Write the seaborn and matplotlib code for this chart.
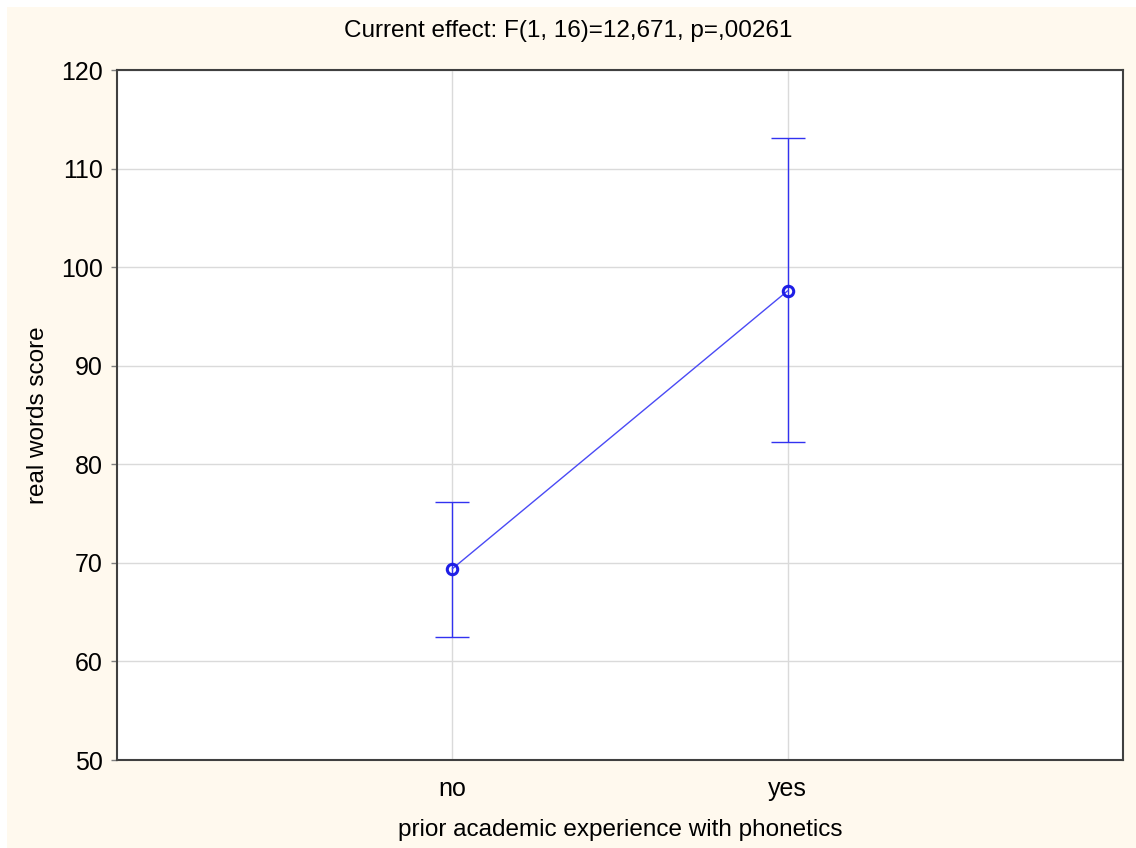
import matplotlib
matplotlib.use("Agg")
import matplotlib.pyplot as plt
import seaborn as sns
import numpy as np
import pandas as pd
from matplotlib.patches import Rectangle

categories = ["no", "yes"]
means = [69.4, 97.6]
lower = [62.5, 82.3]
upper = [76.2, 113.1]
yticks = [50, 60, 70, 80, 90, 100, 110, 120]
title = "Current effect: F(1, 16)=12,671, p=,00261"
xlabel = "prior academic experience with phonetics"
ylabel = "real words score"

sns.set_theme(style="white")
plt.rcParams['font.family'] = ['Liberation Sans', 'DejaVu Sans']

W, H = 1136, 848
fig = plt.figure(figsize=(W / 100, H / 100), dpi=100)
fig.patch.set_facecolor("white")
fig.patches.append(Rectangle((7 / W, 0), 1 - 7 / W, 1 - 7 / H, transform=fig.transFigure,
                             facecolor="#FFF9EE", edgecolor="none", zorder=-10))
ax = fig.add_axes([117 / W, 1 - 760 / H, (1123 - 117) / W, (760 - 70) / H])
ax.set_facecolor("white")

df = pd.DataFrame({"cat": categories, "mean": means})
blue = "#3232F0"
sns.pointplot(data=df, x="cat", y="mean", ax=ax, color="#4A4AF5", errorbar=None,
              markers="o", linestyles="-", linewidth=1.0, markersize=7.5,
              markerfacecolor="none", markeredgecolor="#1E1EE6", markeredgewidth=2.2, zorder=5)
xpos = np.arange(len(categories))
m = np.array(means)
yerr = np.vstack([m - np.array(lower), np.array(upper) - m])
ax.errorbar(xpos, m, yerr=yerr, fmt="none", ecolor=blue, elinewidth=1.0,
            capsize=12, capthick=1.0, zorder=4)

ax.set_xlim(-1, 2)
ax.set_ylim(50, 120)
ax.set_yticks(yticks)
ax.set_xticks(xpos)
ax.set_xticklabels(categories)
ax.grid(True, color="#DADADA", linewidth=1.0)
ax.set_axisbelow(True)
for s in ax.spines.values():
    s.set_color("#404040")
    s.set_linewidth(1.5)
ax.tick_params(axis="both", labelsize=18, colors="#808080", length=4, width=1,
               labelcolor="black", pad=6, left=True, bottom=False)
ax.tick_params(axis="x", pad=8)
ax.set_xlabel(xlabel, fontsize=17.5, labelpad=13, color="black")
ax.set_ylabel(ylabel, fontsize=17.5, labelpad=9, color="black")
fig.text(0.5, 1 - 31 / H, title, ha="center", va="center", fontsize=17.5, color="black")

fig.savefig("out.png", dpi=100, facecolor=fig.get_facecolor())
